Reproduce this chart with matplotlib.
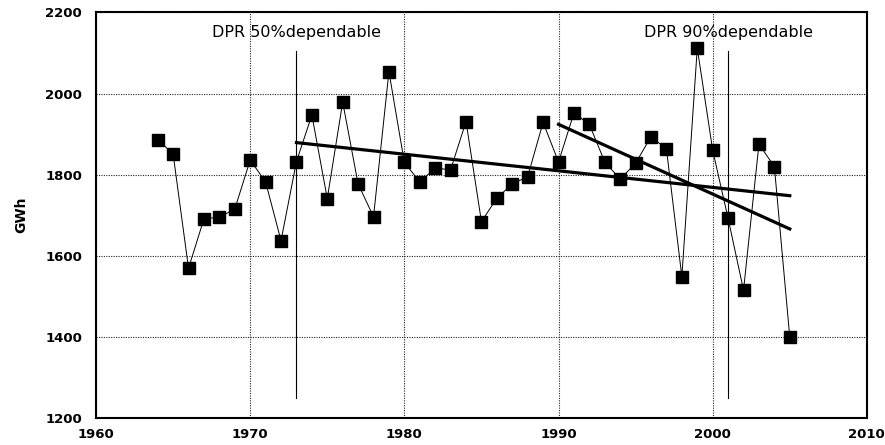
import matplotlib.pyplot as plt

# Annual generation (GWh)
years = list(range(1964, 2006))
gwh = [1886, 1851, 1569, 1691, 1695, 1715, 1836, 1782, 1637, 1832,
       1947, 1741, 1979, 1777, 1696, 2054, 1830, 1782, 1816, 1812,
       1931, 1684, 1742, 1777, 1795, 1929, 1831, 1952, 1924, 1831,
       1789, 1828, 1894, 1863, 1548, 2112, 1860, 1692, 1515, 1875,
       1820, 1399]

# Trend lines (end points)
trend_long_x = [1973, 2005]
trend_long_y = [1879, 1748]
trend_short_x = [1990, 2005]
trend_short_y = [1924, 1666]

# Dependable-year markers
dpr_years = [1973, 2001]
dpr_labels = ["DPR 50%dependable", "DPR 90%dependable"]
dpr_span = [1248, 2106]

xticks = [1960, 1970, 1980, 1990, 2000, 2010]
yticks = [1200, 1400, 1600, 1800, 2000, 2200]

fig = plt.figure(figsize=(8.85, 4.45), dpi=100)
ax = fig.add_axes([0.1085, 0.061, 0.871, 0.911])

ax.plot(years, gwh, color="black", lw=0.7, marker="s", markersize=8.8,
        markerfacecolor="black", markeredgecolor="black", zorder=3)
ax.plot(trend_long_x, trend_long_y, color="black", lw=2.3, zorder=4)
ax.plot(trend_short_x, trend_short_y, color="black", lw=2.3, zorder=4)

for yr, lab in zip(dpr_years, dpr_labels):
    ax.plot([yr, yr], dpr_span, color="black", lw=0.8, zorder=2)
    ax.text(yr, 2150, lab, ha="center", va="center", fontsize=11.5)

ax.set_xlim(1960, 2010)
ax.set_ylim(1200, 2200)
ax.set_xticks(xticks)
ax.set_yticks(yticks)
ax.grid(True, color="#222222", linestyle=(0, (1, 1.2)), lw=0.8)
ax.tick_params(axis="x", length=0, labelsize=9.5, pad=7)
ax.tick_params(axis="y", length=0, labelsize=9.5, pad=10)
for lab in ax.get_xticklabels() + ax.get_yticklabels():
    lab.set_fontweight("bold")
for sp in ax.spines.values():
    sp.set_linewidth(1.5)
ax.set_ylabel("GWh", fontsize=10, fontweight="bold", labelpad=12)

fig.savefig("out.png", dpi=100)
